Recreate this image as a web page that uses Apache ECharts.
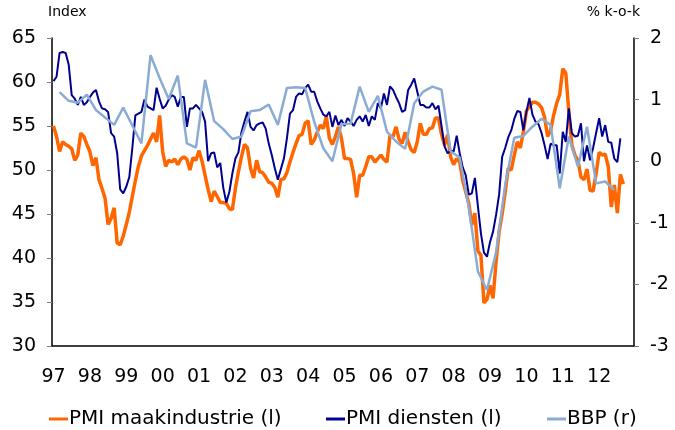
<!DOCTYPE html>
<html>
<head>
<meta charset="utf-8">
<script src="https://cdn.jsdelivr.net/npm/echarts@6/dist/echarts.min.js"></script>
<style>
html,body{margin:0;padding:0;background:#fff;}
#chart{width:675px;height:430px;}
</style>
</head>
<body>
<div id="chart"></div>
<script>
// Monthly categories Jan 1997 .. Dec 2012
var firstYear = 1997, lastYear = 2012;
var months = [];
for (var y = firstYear; y <= lastYear; y++) {
  for (var m = 1; m <= 12; m++) months.push(y + '-' + (m < 10 ? '0' + m : m));
}

// PMI maakindustrie (left axis), monthly from Jan 1997
var pmiManufacturing = [
55.0,53.8,52.1,53.2,52.9,52.7,52.4,51.1,51.7,54.2,53.8,52.9,
52.1,50.5,51.4,48.9,47.9,46.8,43.8,44.5,45.7,41.7,41.5,42.5,
43.8,45.2,47.0,48.8,50.4,51.6,52.2,52.8,53.5,54.2,53.2,56.2,
52.1,50.4,51.1,50.9,51.25,50.6,51.25,51.5,51.2,50.0,51.4,51.1,
52.2,51.0,49.4,47.8,46.4,47.6,47.0,46.3,46.3,46.2,45.6,45.5,
47.9,49.8,51.5,52.9,52.5,50.2,49.1,51.1,49.8,49.7,49.2,48.6,
48.5,48.0,46.9,48.9,49.0,49.7,50.9,52.0,53.0,53.9,54.05,55.3,
55.6,52.9,53.4,54.3,55.1,54.7,56.1,53.6,52.9,53.8,54.9,53.6,
51.3,51.3,51.2,49.6,46.9,49.4,49.4,50.4,51.5,51.5,50.9,51.3,
51.7,51.2,50.9,53.9,53.8,54.9,53.5,53.0,54.3,53.2,52.3,52.0,
53.2,55.3,54.05,54.05,54.7,54.8,55.9,55.9,54.05,52.8,54.0,51.5,
50.6,51.3,50.9,48.8,47.5,46.2,43.75,45.1,40.8,40.3,34.9,35.3,
36.9,35.4,39.6,43.0,45.0,47.5,50.2,50.0,51.7,53.2,52.5,54.35,
56.7,57.2,57.7,57.7,57.5,57.1,56.0,53.8,54.5,56.25,57.6,58.6,
61.5,61.0,56.6,52.8,51.7,51.1,49.2,48.9,50.1,47.7,47.6,49.6,
52.0,51.7,51.8,50.4,45.8,48.3,45.1,49.5,48.4
];

// PMI diensten (left axis), monthly from Jan 1997
var pmiServices = [
60.1,60.6,63.3,63.4,63.3,62.0,58.5,58.1,57.4,58.3,57.4,57.7,
58.3,58.8,59.1,57.8,57.0,56.9,56.6,54.2,53.8,51.9,47.8,47.35,
48.1,49.2,52.5,56.2,56.4,56.6,58.0,57.2,57.0,56.8,59.35,58.1,
57.0,57.3,58.0,58.5,58.3,57.2,58.3,58.3,54.9,57.0,57.0,57.4,
57.0,56.6,55.5,51.0,51.9,52.0,50.3,50.8,48.0,46.3,47.5,49.6,
51.3,52.0,54.3,55.5,56.6,54.9,54.5,55.1,55.3,55.4,54.7,53.0,
51.7,50.2,48.9,50.1,51.3,53.6,56.4,56.8,58.3,58.7,58.6,59.3,
59.7,58.9,58.9,57.8,57.0,56.3,56.1,56.6,54.9,56.2,55.1,55.7,
55.0,55.9,55.5,55.0,55.7,56.1,55.5,56.25,55.0,56.1,55.7,57.6,
57.0,58.7,57.4,59.5,59.1,58.3,57.6,56.6,56.8,59.1,59.7,60.4,
58.9,57.4,57.4,57.1,57.1,57.6,56.9,57.3,55.0,52.7,51.9,52.2,
52.1,53.9,51.9,50.3,49.4,47.2,47.35,49.1,45.9,42.8,40.6,40.15,
41.8,43.0,44.9,47.2,51.5,52.5,53.7,54.5,55.8,56.7,56.6,54.5,
56.6,58.2,56.3,55.5,55.2,54.2,52.8,51.25,53.0,52.8,52.8,49.6,
54.35,53.2,57.0,54.2,53.8,53.9,55.3,51.0,52.8,51.1,52.5,54.2,
55.9,53.8,55.1,53.2,53.1,51.3,50.9,53.6
];

// BBP % k-o-k (right axis), quarterly from Q1 1997
var gdpQoQ = [
1.12,0.98,0.95,1.08,
0.83,0.71,0.59,0.87,
0.58,0.29,1.72,1.35,
1.01,1.39,0.29,0.22,
1.32,0.65,0.52,0.36,
0.40,0.81,0.83,0.92,
0.59,1.19,1.20,1.19,
0.64,0.21,0.00,0.60,
0.61,1.21,0.80,1.06,
0.48,0.32,0.20,0.94,
1.13,1.21,1.16,0.16,
0.06,-0.75,-1.79,-2.09,
-1.48,-0.39,0.38,0.41,
0.56,0.69,0.59,-0.44,
0.40,-0.09,0.56,-0.36,
-0.33,-0.47
];

var leftTicks = {min: 30, max: 65, interval: 5};
var rightTicks = {min: -3, max: 2, interval: 1};
var seriesNames = ['PMI maakindustrie (l)', 'PMI diensten (l)', 'BBP (r)'];
var seriesColors = ['#FF6600', '#00008F', '#8AACD3'];

// quarterly values sit at the last month of each quarter
var gdpMonthly = months.map(function () { return null; });
gdpQoQ.forEach(function (v, q) { gdpMonthly[q * 3 + 2] = v; });

var FONT = 'DejaVu Sans';
var legendLefts = [44, 321, 542];
var legends = seriesNames.map(function (n, i) {
  return {
    left: legendLefts[i], top: 404,
    icon: 'rect', itemWidth: 19, itemHeight: 3,
    textStyle: {fontSize: 20, color: '#000', fontFamily: FONT, padding: [0, 0, 0, -4]},
    data: [n]
  };
});

var chart = echarts.init(document.getElementById('chart'), null, {renderer: 'canvas'});
chart.setOption({
  animation: false,
  backgroundColor: '#ffffff',
  textStyle: {fontFamily: FONT},
  grid: {left: 52, right: 41, top: 38, bottom: 84, containLabel: false},
  graphic: [
    {type: 'text', left: 48, top: 5, style: {text: 'Index', font: '14px ' + FONT, fill: '#000'}},
    {type: 'text', right: 35, top: 5, style: {text: '% k-o-k', font: '14px ' + FONT, fill: '#000'}}
  ],
  legend: legends,
  xAxis: {
    type: 'category', data: months, boundaryGap: true,
    axisLine: {onZero: false, lineStyle: {color: '#000', width: 1.5}},
    axisTick: {interval: function (i) { return i % 12 === 0; }, length: 5, lineStyle: {color: '#7f7f7f'}},
    axisLabel: {
      interval: function (i) { return i % 12 === 0; },
      formatter: function (v) { return v.slice(2, 4); },
      fontSize: 19, color: '#000', margin: 22, fontFamily: FONT
    },
    splitLine: {show: false}
  },
  yAxis: [
    {
      type: 'value', position: 'left', min: leftTicks.min, max: leftTicks.max, interval: leftTicks.interval,
      axisLine: {show: true, onZero: false, lineStyle: {color: '#000', width: 1.5}},
      axisTick: {show: true, length: 5, lineStyle: {color: '#7f7f7f'}},
      axisLabel: {fontSize: 19, color: '#000', margin: 16, fontFamily: FONT},
      splitLine: {show: false}
    },
    {
      type: 'value', position: 'right', min: rightTicks.min, max: rightTicks.max, interval: rightTicks.interval,
      axisLine: {show: true, onZero: false, lineStyle: {color: '#000', width: 1.5}},
      axisTick: {show: true, length: 5, lineStyle: {color: '#7f7f7f'}},
      axisLabel: {fontSize: 19, color: '#000', margin: 16, fontFamily: FONT},
      splitLine: {show: false}
    }
  ],
  series: [
    {name: seriesNames[0], type: 'line', yAxisIndex: 0, data: pmiManufacturing, showSymbol: false, symbol: 'none',
      lineStyle: {color: seriesColors[0], width: 3.5}, itemStyle: {color: seriesColors[0]}, z: 2},
    {name: seriesNames[1], type: 'line', yAxisIndex: 0, data: pmiServices, showSymbol: false, symbol: 'none',
      lineStyle: {color: seriesColors[1], width: 2}, itemStyle: {color: seriesColors[1]}, z: 3},
    {name: seriesNames[2], type: 'line', yAxisIndex: 1, data: gdpMonthly, connectNulls: true, showSymbol: false, symbol: 'none',
      lineStyle: {color: seriesColors[2], width: 2.5}, itemStyle: {color: seriesColors[2]}, z: 4}
  ]
});
</script>
</body>
</html>
